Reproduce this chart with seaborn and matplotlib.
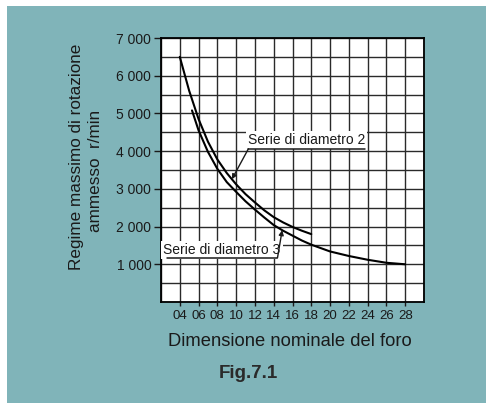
#%% bibliotecas
import numpy as np
import pandas as pd
import seaborn as sns
import matplotlib.pyplot as plt
from matplotlib.patches import Rectangle

#%% dati
# Serie di diametro 2 (curva superiore, da 04 a 18)
x_serie2 = [4, 5, 6, 7, 8, 9, 10, 11, 12, 13, 14, 15, 16, 17, 18]
v_serie2 = [6500, 5600, 4850, 4250, 3780, 3420, 3120, 2860, 2640, 2430,
            2250, 2110, 1990, 1890, 1800]
# Serie di diametro 3 (curva inferiore, da 05 a 28)
x_serie3 = [5.3, 6, 7, 8, 9, 10, 11, 12, 13, 14, 15, 16, 17, 18,
            20, 22, 24, 26, 28]
v_serie3 = [5080, 4550, 3980, 3530, 3180, 2920, 2670, 2450, 2240, 2040,
            1890, 1760, 1630, 1520, 1340, 1220, 1120, 1040, 1000]

x_ticks = list(range(4, 29, 2))
x_ticklabels = [f"{t:02d}" for t in x_ticks]
y_ticks = list(range(1000, 7001, 1000))
y_ticklabels = [f"{t:,}".replace(",", " ") for t in y_ticks]

df2 = pd.DataFrame({"foro": x_serie2, "giri": v_serie2})
df3 = pd.DataFrame({"foro": x_serie3, "giri": v_serie3})

#%% figura
sns.set_style("white")
plt.rcParams['font.family'] = ['Liberation Sans', 'DejaVu Sans']

W, H = 486, 403
fig = plt.figure(figsize=(W / 100, H / 100), dpi=100, facecolor='white')
# sfondo verde-acqua
fig.patches.append(Rectangle((7 / W, 0), 1 - 7 / W, 1 - 6 / H,
                             transform=fig.transFigure,
                             facecolor='#80b4b9', edgecolor='none', zorder=-5))

ax = fig.add_axes([161 / W, 1 - 302 / H, (424 - 161) / W, (302 - 38) / H])
ax.set_zorder(2)
ax.set_facecolor('white')

sns.lineplot(data=df2, x="foro", y="giri", ax=ax, color='black', lw=1.5,
             sort=False, zorder=3)
sns.lineplot(data=df3, x="foro", y="giri", ax=ax, color='black', lw=1.5,
             sort=False, zorder=3)

ax.set_xlim(2, 30)
ax.set_ylim(0, 7000)
ax.set_xticks(x_ticks)
ax.set_xticklabels(x_ticklabels, fontsize=9.5)
ax.set_yticks(y_ticks)
ax.set_yticklabels(y_ticklabels, fontsize=10)
ax.set_xticks(range(2, 31, 2), minor=True)
ax.set_yticks(range(0, 7001, 500), minor=True)
ax.grid(which='minor', color='#2a2a2a', lw=1.0, zorder=1)
ax.grid(which='major', color='#2a2a2a', lw=1.0, zorder=1)
ax.tick_params(axis='x', which='major', length=3, width=1.0, pad=3,
               direction='out', bottom=True, colors='#1a1a1a')
ax.tick_params(axis='y', which='major', length=5, width=1.0, pad=2,
               direction='out', left=True, colors='#1a1a1a')
ax.tick_params(which='minor', length=0)
for s in ax.spines.values():
    s.set_color('black')
    s.set_linewidth(1.3)
ax.set_xlabel("")
ax.set_ylabel("")

#%% etichette delle serie con sottolineatura e freccia
def etichetta(testo, xc, yc, x0, x1, y_line, x_start, x_tip, xs, vs):
    ax.text(xc, yc, testo, ha='center', va='center', fontsize=10,
            color='#1a1a1a', zorder=5,
            bbox=dict(facecolor='white', edgecolor='none', pad=1.5))
    ax.plot([x0, x1], [y_line, y_line], color='#1a1a1a', lw=1.1, zorder=5)
    y_tip = np.interp(x_tip, xs, vs)
    ax.annotate("", xy=(x_tip, y_tip), xytext=(x_start, y_line),
                arrowprops=dict(arrowstyle='-|>', color='#1a1a1a', lw=1,
                                mutation_scale=7, shrinkA=0, shrinkB=0),
                zorder=5)

etichetta("Serie di diametro 2", 17.5, 4300, 11.3, 23.7, 4060, 11.3, 9.55,
          x_serie2, v_serie2)
etichetta("Serie di diametro 3", 8.5, 1370, 2.6, 14.4, 1170, 14.4, 14.9,
          x_serie3, v_serie3)

#%% testi degli assi
fig.text(77 / W, 1 - 157 / H, "Regime massimo di rotazione", rotation=90,
         ha='center', va='center', fontsize=12.3, color='#1a1a1a')
fig.text(95 / W, 1 - 171 / H, "ammesso  r/min", rotation=90,
         ha='center', va='center', fontsize=12.3, color='#1a1a1a')
fig.text(290 / W, 1 - 342 / H, "Dimensione nominale del foro",
         ha='center', va='center', fontsize=13.2, color='#1a1a1a')
fig.text(248 / W, 1 - 373 / H, "Fig.7.1", ha='center', va='center',
         fontsize=13.5, fontweight='bold', color='#2a2a2a')

fig.savefig("out.png", dpi=100, facecolor=fig.get_facecolor())
